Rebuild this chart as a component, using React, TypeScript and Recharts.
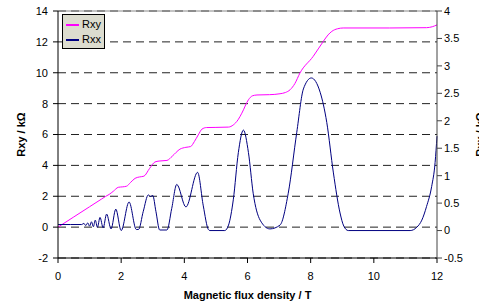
import {
  CartesianGrid,
  Label,
  Legend,
  Line,
  LineChart,
  ReferenceLine,
  XAxis,
  YAxis,
} from 'recharts'

const FONT = '"Liberation Sans", Arial, sans-serif'

// Hall resistance (left axis, kΩ) vs field (T)
const rxyField = [
  0, 0.5, 1.0, 1.38, 1.5, 1.62, 1.75, 1.91, 2.05, 2.17, 2.3, 2.44, 2.58, 2.72, 2.9, 3.07, 3.2, 3.45,
  3.62, 3.86, 4.05, 4.2, 4.32, 4.44, 4.56, 4.7, 5.0, 5.4, 5.55, 5.7, 5.82, 6.03, 6.15, 6.3, 6.7, 7.03,
  7.2, 7.35, 7.5, 7.66, 8.08, 8.4, 8.55, 8.67, 8.85, 9.03, 10.5, 11.67, 11.85, 12,
]
const rxyValues = [
  0, 0.66, 1.32, 1.82, 1.98, 2.12, 2.32, 2.58, 2.61, 2.65, 2.9, 3.16, 3.25, 3.3, 3.8, 4.22, 4.28, 4.32,
  4.6, 5.05, 5.17, 5.22, 5.55, 5.97, 6.35, 6.45, 6.46, 6.48, 6.62, 6.95, 7.38, 8.25, 8.5, 8.56, 8.58,
  8.64, 8.72, 8.9, 9.3, 9.98, 11.06, 12.03, 12.45, 12.68, 12.85, 12.9, 12.9, 12.92, 12.98, 13.1,
]

// Longitudinal resistance (right axis, kΩ) vs field (T)
const rxxField = [
  0, 0.4, 0.75, 0.82, 0.88, 0.94, 1.0, 1.06, 1.12, 1.18, 1.25, 1.33, 1.43, 1.54, 1.68, 1.83, 2.0,
  2.25, 2.48, 2.55, 2.7, 2.86, 2.93, 3.0, 3.1, 3.22, 3.45, 3.6, 3.76, 4.05, 4.42, 4.6, 4.76, 4.81,
  5.28, 5.4, 5.55, 5.71, 5.87, 6.03, 6.18, 6.4, 6.71, 7.03, 7.29, 7.56, 7.77, 8.02, 8.3, 8.51, 8.72,
  8.93, 9.05, 9.19, 11.15, 11.36, 11.52, 11.67, 11.83, 11.94, 12,
]
const rxxValues = [
  0.11, 0.11, 0.11, 0.13, 0.09, 0.14, 0.08, 0.16, 0.07, 0.19, 0.06, 0.24, 0.05, 0.3, 0.03, 0.39, 0.0,
  0.52, 0.02, 0.02, 0.35, 0.65, 0.62, 0.64, 0.35, 0.01, 0.01, 0.4, 0.84, 0.43, 1.06, 0.45, 0.02, 0,
  0, 0.1, 0.56, 1.42, 1.83, 1.42, 0.68, 0.19, 0.03, 0.1, 0.68, 1.79, 2.58, 2.78, 2.52, 1.97, 1.05,
  0.32, 0.08, 0, 0, 0.06, 0.19, 0.44, 0.8, 1.24, 1.72,
]

const xTicks = [0, 2, 4, 6, 8, 10, 12]
const leftTicks = [-2, 0, 2, 4, 6, 8, 10, 12, 14]
const rightTicks = [-0.5, 0, 0.5, 1, 1.5, 2, 2.5, 3, 3.5, 4]

const seriesInfo = [
  { name: 'Rxy', color: '#ff00ff' },
  { name: 'Rxx', color: '#000080' },
]

const rxyData = rxyField.map((x, i) => ({ x, y: rxyValues[i] }))
const rxxData = rxxField.map((x, i) => ({ x, y: rxxValues[i] }))

const tickStyle = { fill: '#000', fontSize: 11, fontFamily: FONT }

function LegendBox() {
  return (
    <div
      style={{
        background: '#dcdccf',
        border: '1px solid #000',
        padding: '2px 3px 1px 3px',
        width: 35,
        fontSize: 11,
        lineHeight: '15px',
        fontFamily: FONT,
        color: '#000',
      }}
    >
      {seriesInfo.map((s) => (
        <div key={s.name} style={{ display: 'flex', alignItems: 'center' }}>
          <span
            style={{
              width: 13,
              height: 0,
              borderTop: `2px solid ${s.color}`,
              marginRight: 3,
            }}
          />
          {s.name}
        </div>
      ))}
    </div>
  )
}

export default function App() {
  return (
    <div style={{ position: 'absolute', left: 0, top: 0, width: 479, height: 305, background: '#fff' }}>
      <LineChart
        width={479}
        height={305}
        margin={{ top: 11, right: 2, bottom: 17, left: 18 }}
        style={{ fontFamily: FONT }}
      >
        <CartesianGrid
          yAxisId="left"
          vertical={false}
          stroke="#222"
          strokeDasharray="8 5"
        />
        <XAxis
          dataKey="x"
          type="number"
          domain={[0, 12]}
          ticks={xTicks}
          height={30}
          tick={tickStyle}
          tickSize={5}
          tickMargin={9}
          stroke="#000"
          allowDuplicatedCategory={false}
        >
          <Label
            value="Magnetic flux density / T"
            position="bottom"
            offset={3}
            style={{ fontSize: 11, fontWeight: 'bold', fill: '#000', fontFamily: FONT }}
          />
        </XAxis>
        <YAxis
          yAxisId="left"
          type="number"
          domain={[-2, 14]}
          ticks={leftTicks}
          width={40}
          tick={tickStyle}
          tickSize={5}
          tickMargin={5}
          stroke="#000"
        >
          <Label
            value="Rxy / kΩ"
            angle={-90}
            position="insideLeft"
            offset={3}
            textAnchor="middle"
            style={{ fontSize: 11, fontWeight: 'bold', fill: '#000', fontFamily: FONT }}
          />
        </YAxis>
        <YAxis
          yAxisId="right"
          orientation="right"
          type="number"
          domain={[-0.5, 4]}
          ticks={rightTicks}
          width={40}
          tick={tickStyle}
          tickSize={5}
          stroke="#444"
        >
          <Label
            value="Rxx / kΩ"
            angle={-90}
            position="insideRight"
            offset={-3}
            textAnchor="middle"
            style={{ fontSize: 11, fontWeight: 'bold', fill: '#000', fontFamily: FONT }}
          />
        </YAxis>
        <ReferenceLine yAxisId="left" y={14} stroke="#888" />
        <Legend
          layout="horizontal"
          verticalAlign="middle"
          align="center"
          wrapperStyle={{ left: 62, top: 14, width: 'auto' }}
          content={() => <LegendBox />}
        />
        <Line
          yAxisId="left"
          data={rxyData}
          dataKey="y"
          name="Rxy"
          type="monotone"
          stroke="#ff00ff"
          strokeWidth={1}
          dot={false}
          isAnimationActive={false}
        />
        <Line
          yAxisId="right"
          data={rxxData}
          dataKey="y"
          name="Rxx"
          type="monotone"
          stroke="#000080"
          strokeWidth={1}
          dot={false}
          isAnimationActive={false}
        />
      </LineChart>
    </div>
  )
}
